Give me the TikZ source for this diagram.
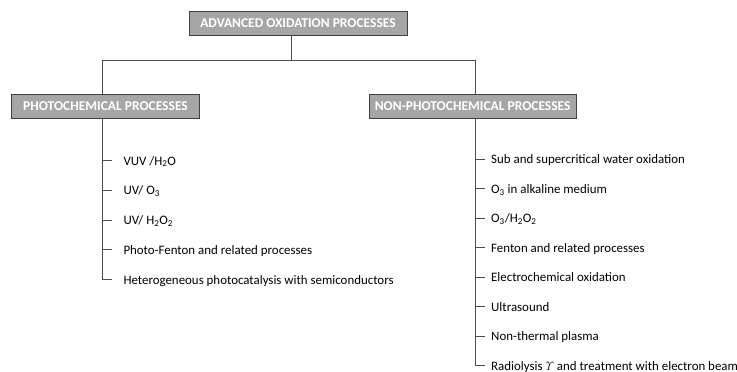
\documentclass[tikz,border=0pt]{standalone}
\usepackage{amsmath}
\usepackage{fontspec}
\setmainfont{Carlito}
\definecolor{boxfill}{HTML}{A6A6A6}
\definecolor{boxedge}{HTML}{404040}
\definecolor{linecol}{HTML}{4D4D4D}
\begin{document}
\begin{tikzpicture}[x=1pt,y=-1pt,
  hdr/.style={draw=boxedge,fill=boxfill,line width=0.9pt,text=white,
    font=\bfseries\fontsize{13.5}{15}\selectfont,minimum height=24pt,inner sep=0pt},
  item/.style={anchor=west,inner sep=0pt,text height=9pt,text depth=0pt,
    font=\fontsize{12.9}{14}\selectfont,text=black},
  conn/.style={draw=linecol,line width=1pt}]
\useasboundingbox (0,0) rectangle (737,372);
\node[hdr,minimum width=218pt] (aop) at (298,23) {ADVANCED OXIDATION PROCESSES};
\node[hdr,minimum width=187.5pt] (pc) at (105.5,106) {PHOTOCHEMICAL PROCESSES};
\node[hdr,minimum width=206.5pt] (npc) at (472.7,106) {NON-PHOTOCHEMICAL PROCESSES};
\coordinate (split) at (291.7,60.5);
\coordinate (lx) at (102.7,60.5);
\coordinate (rx) at (475,60.5);
\draw[conn] (aop.south -| split) -- (split);
\draw[conn] (pc.north -| lx) -- (lx) -- (rx) -- (npc.north -| rx);
% left items
\node[item] (l1) at (123.3,160.6) {VUV /H\textsubscript{2}O};
\node[item] (l2) at (123.3,190.3) {UV/ O\textsubscript{3}};
\node[item] (l3) at (123.3,220) {UV/ H\textsubscript{2}O\textsubscript{2}};
\node[item] (l4) at (123.3,249.8) {Photo-Fenton and related processes};
\node[item] (l5) at (123.3,279.6) {Heterogeneous photocatalysis with semiconductors};
\draw[conn] (pc.south -| lx) |- ([xshift=-11.6pt]l5.west);
\foreach \n in {l1,l2,l3,l4}
  \draw[conn] (lx |- \n.west) -- ([xshift=-11.6pt]\n.west);
% right items
\node[item] (r1) at (491,159.3) {Sub and supercritical water oxidation};
\node[item] (r2) at (491,188.8) {O\textsubscript{3} in alkaline medium};
\node[item] (r3) at (491,218.3) {O\textsubscript{3}/H\textsubscript{2}O\textsubscript{2}};
\node[item] (r4) at (491,247.8) {Fenton and related processes};
\node[item] (r5) at (491,277.3) {Electrochemical oxidation};
\node[item] (r6) at (491,306.8) {Ultrasound};
\node[item] (r7) at (491,336.3) {Non-thermal plasma};
\node[item] (r8) at (491,365.8) {Radiolysis $\varUpsilon$ and treatment with electron beam};
\draw[conn] (npc.south -| rx) |- ([xshift=-6pt]r8.west);
\foreach \n in {r1,r2,r3,r4,r5,r6,r7}
  \draw[conn] (rx |- \n.west) -- ([xshift=-6pt]\n.west);
\end{tikzpicture}
\end{document}
